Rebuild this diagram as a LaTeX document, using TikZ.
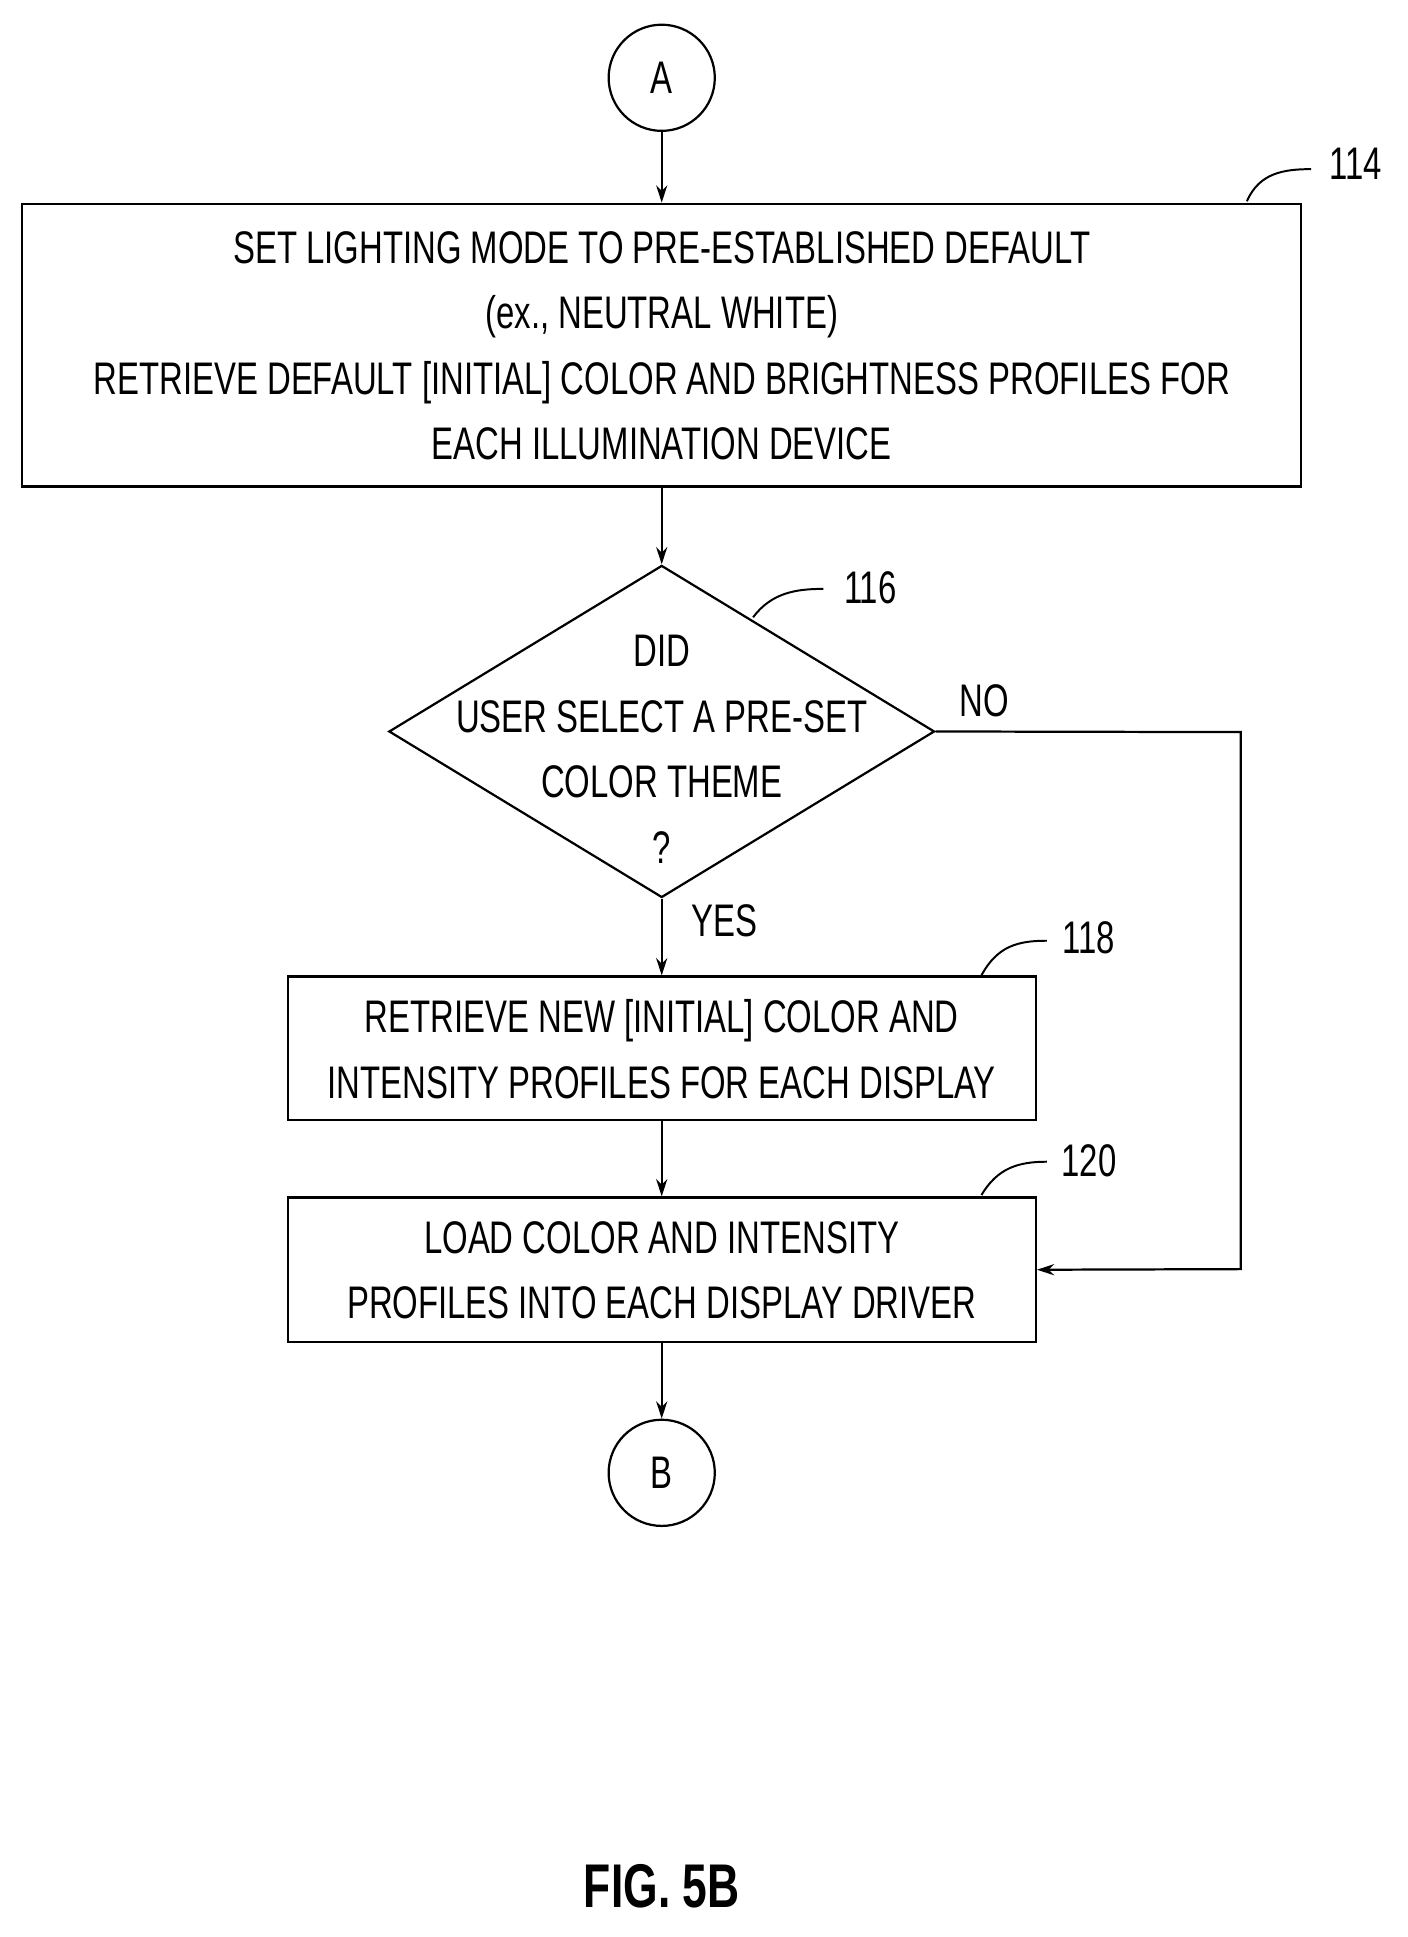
\documentclass[tikz,border=0pt]{standalone}
\usepackage{fontspec}
\setmainfont{Liberation Sans}[FakeStretch=0.72]
\usetikzlibrary{shapes.geometric,arrows.meta}
\begin{document}
\begin{tikzpicture}[x=1pt,y=-1pt,
  box/.style={draw,line width=1.8pt,inner sep=0pt},
  txt/.style={font=\fontsize{37}{53}\selectfont,align=center},
  arr/.style={line width=1.8pt,-{Stealth[length=14pt,width=9pt]}},
  lead/.style={line width=1.6pt},
  lab/.style={font=\fontsize{37}{40}\selectfont}]
\useasboundingbox (0,0) rectangle (1140,1569);
\node[circle,draw,line width=1.8pt,minimum size=86pt,inner sep=0pt,txt] (A) at (536,63) {A};
\node[box,minimum width=1036pt,minimum height=229pt] (b114) at (536,279.5) {};
\node[txt] at (536,280) {SET LIGHTING MODE TO PRE-ESTABLISHED DEFAULT\\(ex., NEUTRAL WHITE)\\RETRIEVE DEFAULT [INITIAL] COLOR AND BRIGHTNESS PROFILES FOR\\EACH ILLUMINATION DEVICE};
\node[diamond,draw,line width=1.8pt,minimum width=442pt,minimum height=269pt,inner sep=0pt,aspect=1.64] (d116) at (536,592.5) {};
\node[txt] at (536,607) {DID\\USER SELECT A PRE-SET\\COLOR THEME\\?};
\node[box,minimum width=606pt,minimum height=116pt] (b118) at (536,849) {};
\node[txt] at (536,850) {RETRIEVE NEW [INITIAL] COLOR AND\\INTENSITY PROFILES FOR EACH DISPLAY};
\node[box,minimum width=606pt,minimum height=117pt] (b120) at (536,1028.5) {};
\node[txt] at (536,1029) {LOAD COLOR AND INTENSITY\\PROFILES INTO EACH DISPLAY DRIVER};
\node[circle,draw,line width=1.8pt,minimum size=86pt,inner sep=0pt,txt] (B) at (536,1193) {B};
\draw[arr] (A) -- (b114);
\draw[arr] (b114) -- (d116.north);
\draw[arr] (d116.south) -- (b118);
\draw[arr] (b118) -- (b120);
\draw[arr] (b120) -- (B);
\coordinate (c1) at (1005,593);
\coordinate (c2) at (1005,1028);
\draw[arr] (d116.east) -- (c1) -- (c2) -- (b120.east);
\node[lab] at (797,568) {NO};
\node[lab] at (587,746) {YES};
\node[lab] (l114) at (1098,133) {114};
\node[lab] (l116) at (705,476) {116};
\node[lab] (l118) at (882,760) {118};
\node[lab] (l120) at (882,940) {120};
\draw[lead] (1010,163) .. controls (1020,140) and (1040,137) .. (1062,137);
\draw[lead] (610,500) .. controls (625,480) and (645,477) .. (667,477);
\draw[lead] (795,790) .. controls (808,766) and (825,762) .. (848,762);
\draw[lead] (795,968) .. controls (808,946) and (825,941) .. (848,941);
\node[font=\fontsize{50}{55}\selectfont\bfseries] at (536,1528) {FIG. 5B};
\end{tikzpicture}
\end{document}
